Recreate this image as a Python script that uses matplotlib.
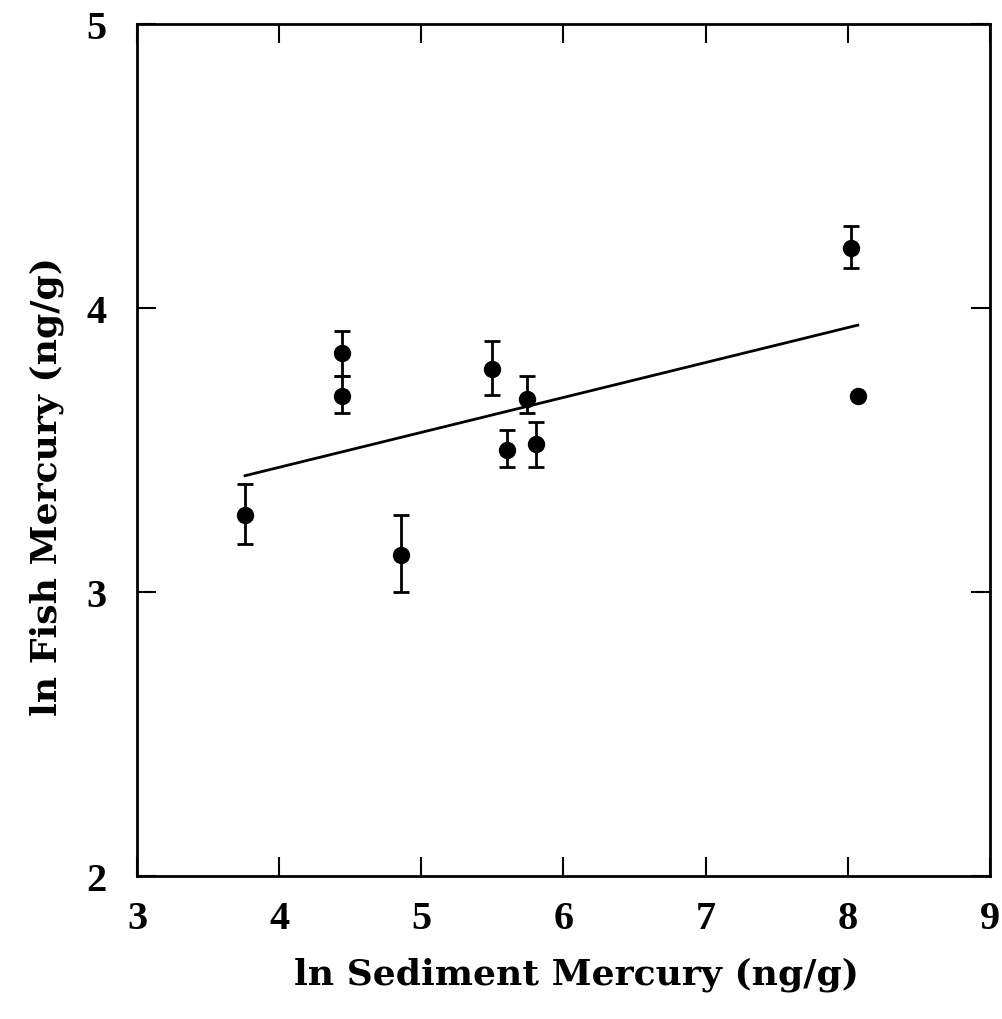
import matplotlib
matplotlib.use("Agg")
import matplotlib.pyplot as plt
import numpy as np

sed_hg = [3.76, 4.44, 4.44, 4.86, 5.50, 5.60, 5.74, 5.81, 8.02, 8.07]
fish_hg = [3.27, 3.84, 3.69, 3.13, 3.785, 3.50, 3.68, 3.52, 4.21, 3.69]
err_up = [0.11, 0.08, 0.07, 0.14, 0.10, 0.07, 0.08, 0.08, 0.08, 0.0]
err_dn = [0.10, 0.08, 0.06, 0.13, 0.09, 0.06, 0.05, 0.08, 0.07, 0.0]

fit_slope = 0.123
fit_intercept = 2.947
fit_x = [3.76, 8.07]

xticks = [3, 4, 5, 6, 7, 8, 9]
yticks = [2, 3, 4, 5]

plt.rcParams['font.family'] = ['Liberation Serif', 'DejaVu Serif']
plt.rcParams['font.weight'] = 'bold'

fig = plt.figure(figsize=(10.02, 10.20), dpi=100)
ax = fig.add_axes([0.1367, 0.1402, 0.988 - 0.1367, 0.9755 - 0.1402])

ax.errorbar(sed_hg, fish_hg, yerr=[err_dn, err_up], fmt='o', color='black',
            markersize=11.5, capsize=6, elinewidth=2, capthick=2)
fx = np.array(fit_x)
ax.plot(fx, fit_intercept + fit_slope * fx, color='black', lw=2)

ax.set_xlim(3, 9)
ax.set_ylim(2, 5)
ax.set_xticks(xticks)
ax.set_yticks(yticks)
ax.set_xticklabels([str(t) for t in xticks], fontsize=29, fontweight='bold')
ax.set_yticklabels([str(t) for t in yticks], fontsize=29, fontweight='bold')
ax.tick_params(direction='in', length=14, width=1.5, top=True, right=True)
ax.tick_params(axis='x', pad=17)
ax.tick_params(axis='y', pad=22)
for s in ax.spines.values():
    s.set_linewidth(2)

ax.set_xlabel('ln Sediment Mercury (ng/g)', fontsize=26,
              family=['DejaVu Serif'], fontweight='bold')
ax.set_ylabel('ln Fish Mercury (ng/g)', fontsize=26,
              family=['DejaVu Serif'], fontweight='bold')
ax.xaxis.set_label_coords(0.515, -0.095)
ax.yaxis.set_label_coords(-0.086, 0.458)

fig.savefig('out.png', dpi=100)
